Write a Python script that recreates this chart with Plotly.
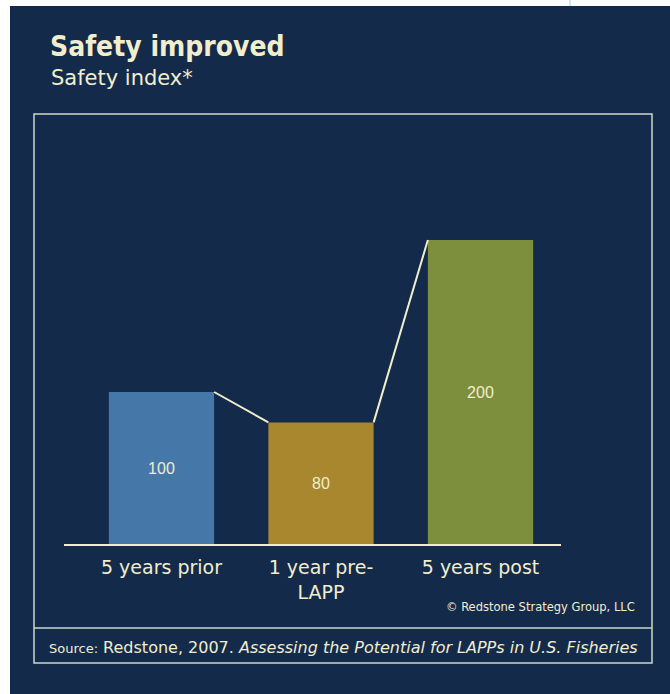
import plotly.graph_objects as go

# Chart data
categories = ["5 years prior", "1 year pre-<br>LAPP", "5 years post"]
values = [100, 80, 200]
bar_colors = ["#4577a9", "#a8872f", "#7d8e3d"]

title_text = "Safety improved"
subtitle_text = "Safety index*"
credit_text = "© Redstone Strategy Group, LLC"
source_label = "Source:"
source_text = "Redstone, 2007."
source_title = "Assessing the Potential for LAPPs in U.S. Fisheries"

# Styling
NAVY = "#142a4b"
CREAM = "#f1eecd"
FRAME = "#c9d7c9"
TEXT_FONT = "DejaVu Sans, Tahoma, sans-serif"
COND_FONT = "DejaVu Sans Condensed, DejaVu Sans, sans-serif"
NUM_FONT = "Liberation Sans, Arial, sans-serif"

W_PX, H_PX = 670, 694
L, R, T, B = 64, 109, 114, 150
PLOT_W = W_PX - L - R
PLOT_H = H_PX - T - B

BAR_W = 0.66
PX_PER_CAT = 159.5
x_pos = list(range(len(categories)))
x_start = -(161.5 - L) / PX_PER_CAT
x_range = [x_start, x_start + PLOT_W / PX_PER_CAT]
y_range = [0, PLOT_H / 1.52]


def px_x(px):
    return (px - L) / PLOT_W


def px_y(py):
    return (H_PX - B - py) / PLOT_H


fig = go.Figure()

fig.add_trace(go.Bar(
    x=x_pos, y=values, width=BAR_W,
    marker=dict(color=bar_colors, line=dict(width=0)),
    text=[str(v) for v in values],
    textposition="inside", insidetextanchor="middle",
    textfont=dict(family=NUM_FONT, size=16, color=CREAM),
    textangle=0,
    hoverinfo="skip",
))

# connectors between the tops of neighbouring bars
cx, cy = [], []
for i in range(len(values) - 1):
    cx += [x_pos[i] + BAR_W / 2, x_pos[i + 1] - BAR_W / 2, None]
    cy += [values[i], values[i + 1], None]
fig.add_trace(go.Scatter(
    x=cx, y=cy, mode="lines",
    line=dict(color=CREAM, width=2),
    hoverinfo="skip", cliponaxis=False,
))

shapes = [
    # outer frame
    dict(type="rect", xref="paper", yref="paper",
         x0=px_x(34), x1=px_x(652), y0=px_y(663), y1=px_y(114),
         line=dict(color=FRAME, width=1.5), layer="below"),
    # divider above the source line
    dict(type="line", xref="paper", yref="paper",
         x0=px_x(34), x1=px_x(652), y0=px_y(628), y1=px_y(628),
         line=dict(color=FRAME, width=1.5)),
    # white page edges
    dict(type="rect", xref="paper", yref="paper",
         x0=px_x(0), x1=px_x(670), y0=px_y(6), y1=px_y(0),
         fillcolor="white", line=dict(width=0)),
    dict(type="rect", xref="paper", yref="paper",
         x0=px_x(0), x1=px_x(10), y0=px_y(694), y1=px_y(0),
         fillcolor="white", line=dict(width=0)),
    dict(type="line", xref="paper", yref="paper",
         x0=px_x(570), x1=px_x(570), y0=px_y(6), y1=px_y(0),
         line=dict(color="#cfe6f0", width=2)),
]


def note(text, px, py, anchor, size, family=TEXT_FONT):
    return dict(text=text, xref="paper", yref="paper",
                x=px_x(px), y=px_y(py),
                xanchor=anchor, yanchor="middle", showarrow=False,
                font=dict(family=family, size=size, color=CREAM))


annotations = [
    note(f"<b>{title_text}</b>", 48, 46, "left", 28, COND_FONT),
    note(subtitle_text, 49, 78, "left", 21, TEXT_FONT),
    note(credit_text, 637, 606, "right", 12.8, COND_FONT),
    note(f"<span style='font-size:13px'>{source_label}</span> "
         f"{source_text} <i>{source_title}</i>", 343, 647, "center", 16, TEXT_FONT),
]

fig.update_layout(
    width=W_PX, height=H_PX,
    margin=dict(l=L, r=R, t=T, b=B, pad=0),
    paper_bgcolor=NAVY, plot_bgcolor="rgba(0,0,0,0)",
    showlegend=False,
    shapes=shapes, annotations=annotations,
    xaxis=dict(
        range=x_range, tickmode="array", tickvals=x_pos, ticktext=categories,
        showgrid=False, zeroline=False, ticks="",
        showline=True, linecolor=CREAM, linewidth=2,
        ticklabelstandoff=5,
        tickfont=dict(family=TEXT_FONT, size=19, color=CREAM),
        fixedrange=True,
    ),
    yaxis=dict(range=y_range, visible=False, fixedrange=True),
)

fig.write_html("out.html")
